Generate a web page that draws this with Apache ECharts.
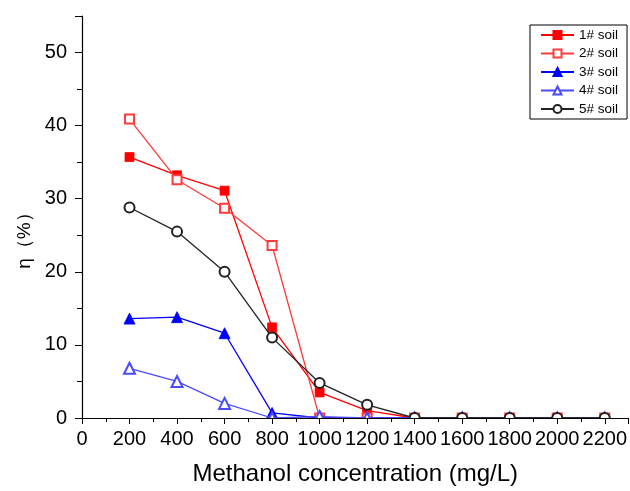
<!DOCTYPE html>
<html><head><meta charset="utf-8">
<script src="https://cdn.jsdelivr.net/npm/echarts@6/dist/echarts.min.js"></script>
<style>html,body{margin:0;padding:0;background:#fff}#c{width:630px;height:491px}</style>
</head><body><div id="c"></div>
<script>
const concentrations = [200, 400, 600, 800, 1000, 1200, 1400, 1600, 1800, 2000, 2200];
const soil1 = [35.7, 33.2, 31.1, 12.4, 3.5, 1.0, 0, 0, 0, 0, 0];
const soil2 = [40.9, 32.6, 28.7, 23.6, 0, 0, 0, 0, 0, 0, 0];
const soil3 = [13.6, 13.8, 11.6, 0.7, 0, 0, 0, 0, 0, 0, 0];
const soil4 = [6.8, 5.0, 2.0, 0, 0.2, 0, 0, 0, 0, 0, 0];
const soil5 = [28.8, 25.5, 20.0, 11.0, 4.8, 1.8, 0, 0, 0, 0, 0];
const seriesNames = ['1# soil', '2# soil', '3# soil', '4# soil', '5# soil'];

const pairs = v => concentrations.map((x, i) => [x, v[i]]);
const defs = [
  {data: soil1, color: '#ff0000', symbol: 'rect', size: 9},
  {data: soil2, color: '#ff3b3b', symbol: 'emptyRect', size: 9},
  {data: soil3, color: '#0000ff', symbol: 'triangle', size: 11},
  {data: soil4, color: '#4a4aff', symbol: 'emptyTriangle', size: 11},
  {data: soil5, color: '#222222', symbol: 'emptyCircle', size: 10}
];
const chart = echarts.init(document.getElementById('c'), null, {renderer: 'canvas'});
const font = 'Liberation Sans, Arial, sans-serif';
chart.setOption({
  animation: false,
  backgroundColor: '#fff',
  grid: {left: 82, top: 16, right: 0, bottom: 68, containLabel: false},
  legend: {
    orient: 'vertical', left: 530, top: 25,
    data: seriesNames,
    borderColor: '#000', borderWidth: 1, padding: [3, 9, 3, 10],
    itemWidth: 33, itemHeight: 10, itemGap: 4.5,
    textStyle: {fontFamily: font, fontSize: 13.5, color: '#000'}
  },
  xAxis: {
    type: 'value', min: 0, max: 2300, interval: 200, z: 50,
    name: 'Methanol concentration (mg/L)', nameLocation: 'middle', nameGap: 44,
    nameTextStyle: {fontFamily: font, fontSize: 24, color: '#000'},
    axisLine: {show: true, lineStyle: {color: '#000', width: 1.2}},
    axisTick: {show: true, length: 6, lineStyle: {color: '#000'}},
    minorTick: {show: true, splitNumber: 2, length: 4, lineStyle: {color: '#000'}},
    axisLabel: {fontFamily: font, fontSize: 20, color: '#000', margin: 11, showMaxLabel: false,
      formatter: v => String(v)},
    splitLine: {show: false}
  },
  yAxis: {
    type: 'value', min: 0, max: 55, interval: 10, z: 50,
    name: 'η（%）', nameLocation: 'middle', nameGap: 45, nameRotate: 90,
    nameTextStyle: {fontFamily: font, fontSize: 19, color: '#000', padding: [0, 38, 0, 0]},
    axisLine: {show: true, lineStyle: {color: '#000', width: 1.2}},
    axisTick: {show: true, length: 7, lineStyle: {color: '#000'}},
    minorTick: {show: true, splitNumber: 2, length: 5, lineStyle: {color: '#000'}},
    axisLabel: {fontFamily: font, fontSize: 20, color: '#000', margin: 15, showMaxLabel: false},
    splitLine: {show: false}
  },
  series: defs.map((d, i) => ({
    name: seriesNames[i], type: 'line', data: pairs(d.data),
    symbol: d.symbol, symbolSize: d.size, showAllSymbol: true,
    lineStyle: {color: d.color, width: 1.3},
    itemStyle: {color: d.color, borderColor: d.color, borderWidth: 0.8},
    z: 2 + i
  }))
});
// mask below the x axis so markers are clipped at the frame, as in the source plot
const origin = chart.convertToPixel({gridIndex: 0}, [0, 0]);
const far = chart.convertToPixel({gridIndex: 0}, [2300, 0]);
chart.setOption({
  graphic: {elements: [{
    type: 'rect', z: 40, silent: true,
    shape: {x: origin[0] + 1, y: origin[1] + 0.6, width: far[0] - origin[0], height: 9},
    style: {fill: '#fff'}
  }]}
});
</script></body></html>
